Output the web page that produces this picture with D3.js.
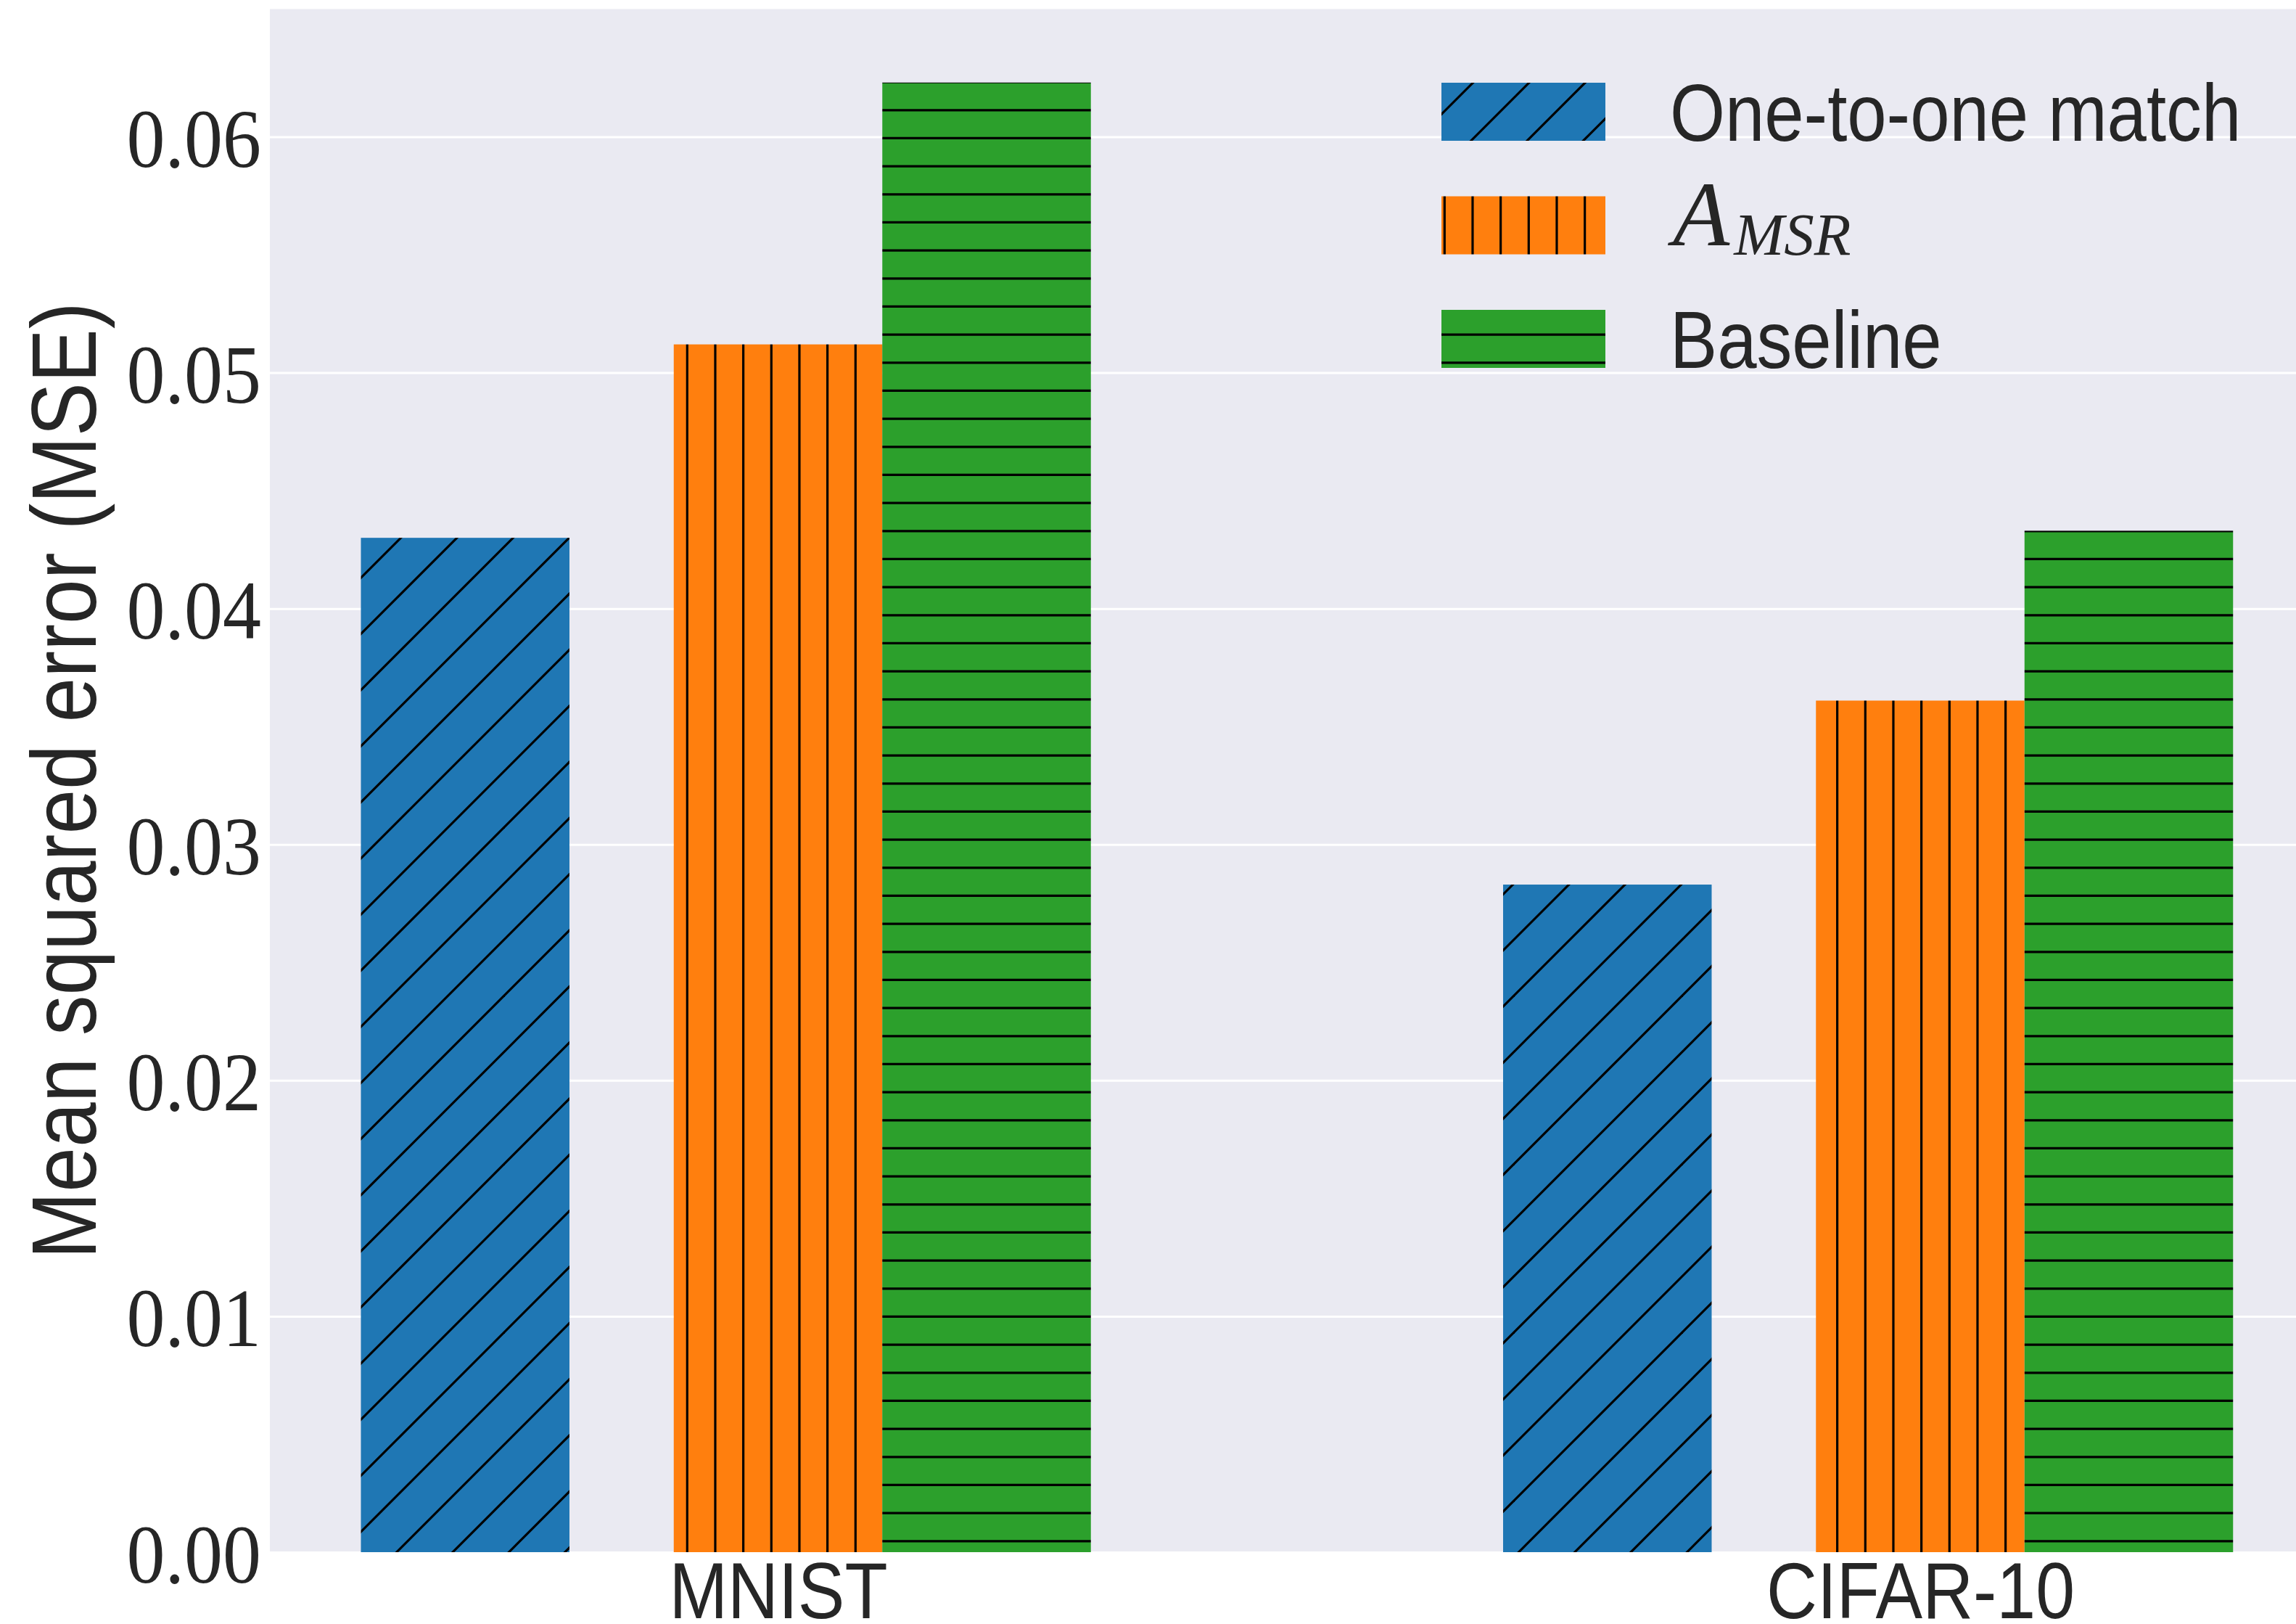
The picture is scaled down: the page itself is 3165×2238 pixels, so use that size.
<!DOCTYPE html>
<html>
<head>
<meta charset="utf-8">
<script src="https://cdn.jsdelivr.net/npm/d3@7/dist/d3.min.js"></script>
<style>
  html, body { margin: 0; padding: 0; background: #ffffff; overflow: hidden; }
  svg { display: block; }
</style>
</head>
<body>
<svg id="chart" width="3165" height="2238"></svg>
<script>
// ---- data ----
const datasets = ["MNIST", "CIFAR-10"];
const methodNames = ["One-to-one match", "A", "Baseline"];
const oneToOneMse = [0.0430, 0.0283];
const amsrMse = [0.0512, 0.0361];
const baselineMse = [0.0623, 0.0433];
const yTickValues = [0.00, 0.01, 0.02, 0.03, 0.04, 0.05, 0.06];

// ---- styling / layout ----
const W = 3165, H = 2238;
const plotLeft = 372, plotTop = 12.5, plotBottom = 2139;
const bg = "#eaeaf2", ink = "#262626";
const colors = ["#1f77b4", "#ff7f0e", "#2ca02c"];
const hatchKinds = ["diag", "vert", "horiz"];
const series = [oneToOneMse, amsrMse, baselineMse];
const barW = 0.1826;              // bar width in category units
const barOffsets = [-1.5, 0, 1];  // bar centre offset, in bar widths
const sansFont = "'Liberation Sans', Arial, sans-serif";
const serifFont = "'Liberation Serif', 'Times New Roman', serif";
const sansSqueeze = 0.88, serifSqueeze = 0.93;

const svg = d3.select("#chart");

// ---- scales ----
const x = d3.scaleLinear().domain([0, 1]).range([1072.5, 2647]);
const yMax = d3.max(series.flat()) * 1.05;
const y = d3.scaleLinear().domain([0, yMax]).range([plotBottom, plotTop]);

// ---- hatch patterns (tiled in page space, 6 lines per 232px unit) ----
const unit = 232, step = unit / 6, hatchW = 3.2;
const defs = svg.append("defs");
hatchKinds.forEach((kind, i) => {
  const p = defs.append("pattern")
    .attr("id", "hatch-" + kind)
    .attr("patternUnits", "userSpaceOnUse")
    .attr("x", 0).attr("y", 0)
    .attr("width", unit).attr("height", unit);
  p.append("rect").attr("width", unit).attr("height", unit).attr("fill", colors[i]);
  const g = p.append("g").attr("stroke", "#000").attr("stroke-width", hatchW);
  if (kind === "vert") {
    d3.range(6).forEach(k => {
      const px = 19.3 + k * step;
      g.append("line").attr("x1", px).attr("x2", px).attr("y1", -1).attr("y2", unit + 1);
    });
  } else if (kind === "horiz") {
    d3.range(6).forEach(k => {
      const py = 35.8 + k * step;
      g.append("line").attr("y1", py).attr("y2", py).attr("x1", -1).attr("x2", unit + 1);
    });
  } else {
    d3.range(-1, 8).forEach(k => {
      const c = 56.4 + k * 2 * step;
      g.append("line").attr("x1", c + 2).attr("y1", -2).attr("x2", c - unit - 2).attr("y2", unit + 2);
    });
  }
});

// ---- plot background ----
svg.append("rect")
  .attr("x", plotLeft).attr("y", plotTop)
  .attr("width", W - plotLeft).attr("height", plotBottom - plotTop)
  .attr("fill", bg);

// ---- y axis with horizontal grid ----
const yAxis = svg.append("g")
  .attr("transform", `translate(${plotLeft},0)`)
  .call(d3.axisLeft(y).tickValues(yTickValues).tickFormat(d3.format(".2f")).tickSize(-(W - plotLeft)));
yAxis.select(".domain").remove();
yAxis.selectAll(".tick line").attr("stroke", "#ffffff").attr("stroke-width", 3);
yAxis.selectAll(".tick text")
  .attr("x", 0).attr("dy", null)
  .attr("transform", `translate(-12,41) scale(${serifSqueeze},1)`)
  .attr("text-anchor", "end")
  .attr("fill", ink)
  .style("font-family", serifFont)
  .style("font-size", "114px");

// ---- bars ----
series.forEach((vals, s) => {
  svg.append("g").selectAll("rect")
    .data(vals)
    .join("rect")
    .attr("x", (d, i) => x(i + (barOffsets[s] - 0.5) * barW))
    .attr("width", x(barW) - x(0))
    .attr("y", d => y(d))
    .attr("height", d => y(0) - y(d))
    .attr("fill", `url(#hatch-${hatchKinds[s]})`);
});

// ---- x axis labels ----
const xAxis = svg.append("g")
  .attr("transform", `translate(0,${plotBottom})`)
  .call(d3.axisBottom(x).tickValues(d3.range(datasets.length)).tickFormat(i => datasets[i]).tickSize(0));
xAxis.select(".domain").remove();
xAxis.selectAll(".tick text")
  .attr("y", 0).attr("dy", null)
  .attr("transform", `translate(0,91) scale(${sansSqueeze},1)`)
  .attr("text-anchor", "middle")
  .attr("fill", ink)
  .style("font-family", sansFont)
  .style("font-size", "110px");

// ---- y axis title ----
svg.append("text")
  .attr("transform", `translate(132,${(plotTop + plotBottom) / 2}) rotate(-90) scale(${sansSqueeze},1)`)
  .attr("text-anchor", "middle")
  .attr("fill", ink)
  .style("font-family", sansFont)
  .style("font-size", "126px")
  .text("Mean squared error (MSE)");

// ---- legend ----
const legend = svg.append("g");
const legendTop = 114, legendGap = 156.5, handleW = 226, handleH = 80, handleX = 1987, labelX = 2302;
methodNames.forEach((name, i) => {
  const top = legendTop + i * legendGap;
  legend.append("rect")
    .attr("x", handleX).attr("y", top)
    .attr("width", handleW).attr("height", handleH)
    .attr("fill", `url(#hatch-${hatchKinds[i]})`);
  const base = top + handleH;
  if (i === 1) {
    const t = legend.append("text")
      .attr("x", labelX + 4).attr("y", base - 13)
      .attr("fill", ink)
      .style("font-family", serifFont)
      .style("font-style", "italic");
    t.append("tspan").style("font-size", "128px").text(name);
    t.append("tspan").attr("dx", 6).attr("dy", 13).style("font-size", "83px").text("MSR");
  } else {
    legend.append("text")
      .attr("transform", `translate(${labelX},${base}) scale(${sansSqueeze},1)`)
      .attr("fill", ink)
      .style("font-family", sansFont)
      .style("font-size", "111px")
      .text(name);
  }
});
</script>
</body>
</html>
